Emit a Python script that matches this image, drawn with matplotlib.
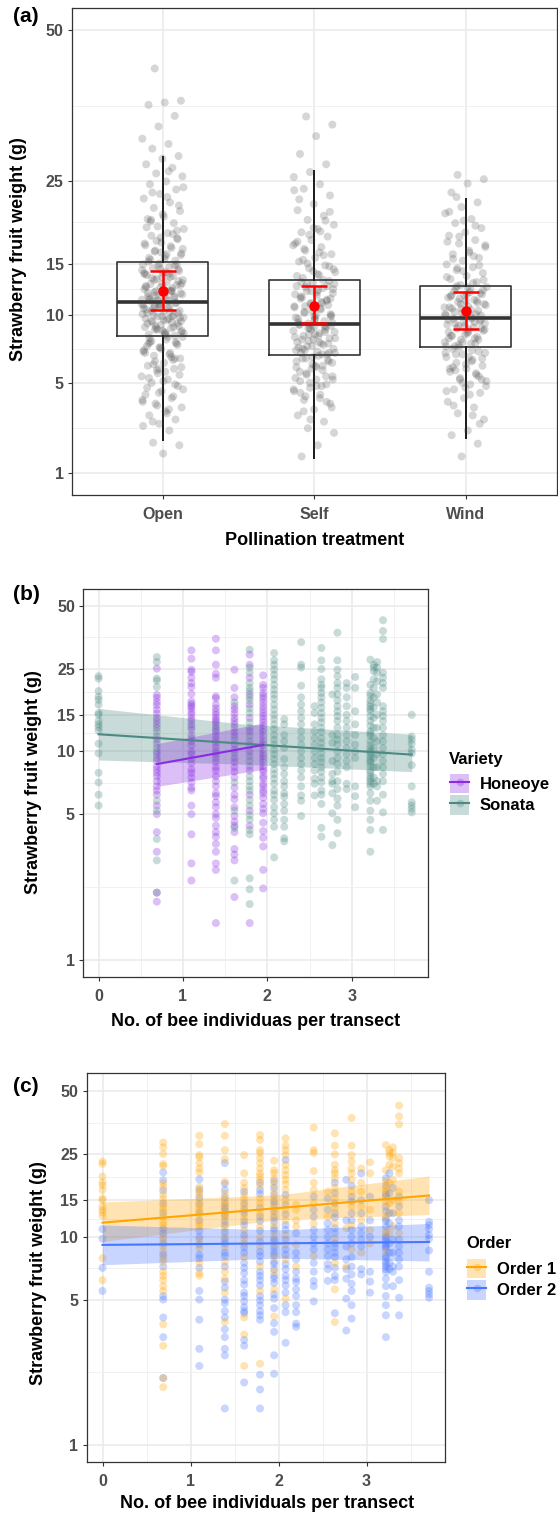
import numpy as np
import matplotlib
matplotlib.use('Agg')
import matplotlib.pyplot as plt
from matplotlib.patches import Patch
from matplotlib.lines import Line2D
from matplotlib.legend_handler import HandlerTuple
from matplotlib.ticker import FixedLocator, NullFormatter

plt.rcParams['font.family'] = ['Liberation Sans', 'DejaVu Sans']
plt.rcParams['font.weight'] = 'bold'

# ---------------- panel (a): pollination treatment ----------------
treatments = ['Open', 'Self', 'Wind']
box_q1 = [8.32, 6.87, 7.45]
box_med = [11.18, 9.25, 9.76]
box_q3 = [15.14, 13.30, 12.73]
whisk_lo = [2.10, 1.45, 2.19]
whisk_hi = [28.4, 26.5, 22.7]
mean_wt = [12.18, 10.86, 10.35]
mean_lo = [10.44, 9.31, 8.87]
mean_hi = [14.17, 12.73, 12.15]

open_wt = [42.9, 37.3, 37.0, 36.6, 34.8, 33.1, 31.2, 30.4, 29.7, 28.6, 28.2, 27.4, 26.9, 26.1,
           25.7, 25.0, 24.6, 23.9, 23.3, 22.7, 22.2, 21.5, 21.1, 20.4, 20.1, 19.6, 19.2, 18.9,
           18.4, 18.1, 17.7, 17.3, 17.0, 16.7, 16.4, 16.1, 15.8, 15.6, 15.3,
           15.0, 14.9, 14.6, 14.5, 14.2, 14.0, 13.8, 13.7, 13.4, 13.3, 13.1, 12.9, 12.8, 12.6,
           12.4, 12.3, 12.1, 12.0, 11.9, 11.7, 11.6, 11.5, 11.4, 11.3, 11.2, 14.4, 13.6, 12.7,
           12.2, 11.8, 13.0, 14.1, 11.5,
           11.1, 11.0, 10.9, 10.7, 10.6, 10.4, 10.3, 10.2, 10.0, 9.9, 9.8, 9.6, 9.5, 9.3, 9.2,
           9.0, 8.9, 8.8, 8.6, 8.5, 8.4, 8.3, 10.8, 10.1, 9.7, 9.4, 9.1, 8.7, 10.5, 9.9, 8.9,
           8.2, 8.0, 7.8, 7.7, 7.4, 7.2, 7.0, 6.8, 6.6, 6.3, 6.1, 5.9, 5.6, 5.4, 5.2, 5.0, 4.8,
           4.5, 4.3, 4.1, 3.8, 3.6, 3.4, 3.2, 3.0, 2.8, 2.7, 2.5, 2.0, 1.9, 1.6, 7.5, 6.5, 5.8,
           4.6, 3.3,
           19.8, 18.7, 17.9, 17.2, 16.9, 16.3, 15.9, 15.5, 15.2, 14.8, 14.7, 14.3, 13.9, 13.5,
           13.2, 12.9, 12.6, 12.5, 12.2, 11.9, 11.6, 11.4, 11.1, 10.9, 10.6, 10.3, 10.0, 9.8,
           9.6, 9.3, 9.0, 8.8, 8.5, 8.2, 7.9, 7.6, 7.3, 7.0, 6.7, 6.4, 6.0, 5.7, 5.3, 4.9, 4.4,
           3.9, 3.5, 2.9,
           21.8, 20.7, 19.1, 18.3, 17.5, 16.6, 16.0, 15.4, 14.9, 14.4, 14.0, 13.6, 13.3, 12.8,
           12.4, 12.0, 11.7, 11.3, 11.0, 10.7, 10.4, 10.2, 9.9, 9.7, 9.4, 9.1, 8.7, 8.4, 8.1,
           7.8, 7.4, 7.1, 6.9, 6.2, 5.5, 5.1, 4.7, 4.2, 3.7,
           24.2, 22.9, 20.0, 17.8, 16.2, 13.9, 12.2, 10.8, 9.5, 8.6, 7.7, 6.6, 5.9, 4.0, 26.4,
           23.5]
self_wt = [34.7, 33.4, 31.6, 28.9, 27.4, 26.3, 25.6, 24.6, 24.0, 23.1, 22.0, 21.2, 20.5, 20.0,
           19.4, 18.9, 18.5, 18.0, 17.6, 17.2, 16.8, 16.4, 16.0, 15.6, 15.2, 14.8, 14.5, 14.1,
           13.8, 13.5,
           13.2, 13.0, 12.7, 12.5, 12.2, 12.0, 11.8, 11.5, 11.3, 11.0, 10.8, 10.6, 10.3, 10.1,
           9.9, 9.7, 9.5, 9.3, 12.9, 12.3, 11.6, 10.9, 10.4, 9.8, 11.1, 12.6, 9.4, 10.0,
           9.2, 9.0, 8.9, 8.7, 8.5, 8.3, 8.1, 8.0, 7.8, 7.6, 7.5, 7.3, 7.1, 7.0, 6.9, 8.8, 8.2,
           7.7, 7.2, 9.1, 8.4, 7.4, 8.6, 7.9, 7.0,
           6.8, 6.6, 6.4, 6.2, 6.0, 5.8, 5.6, 5.4, 5.2, 5.1, 4.9, 4.7, 4.5, 4.3, 4.0, 3.8, 3.5,
           3.2, 2.9, 2.6, 2.4, 1.9, 1.5, 6.5, 5.9, 5.3, 4.8, 4.2, 3.6, 6.1,
           22.6, 19.9, 18.2, 17.0, 16.2, 15.4, 14.7, 14.2, 13.7, 13.3, 12.9, 12.4, 12.1, 11.7,
           11.4, 11.1, 10.7, 10.5, 10.2, 9.9, 9.6, 9.4, 9.1, 8.9, 8.6, 8.3, 8.0, 7.7, 7.5, 7.2,
           6.9, 6.6, 6.3, 6.0, 5.7, 5.4, 5.0, 4.6, 4.1, 3.4,
           21.0, 19.0, 17.4, 15.9, 15.0, 14.4, 13.9, 13.1, 12.7, 12.2, 11.9, 11.2, 10.8, 10.0,
           9.7, 9.2, 8.8, 8.4, 8.1, 7.8, 7.3, 7.0, 6.7, 6.4, 6.1, 5.5, 5.2, 4.8, 4.4, 3.9, 3.0,
           23.8, 18.6, 16.6, 11.5, 9.0]
wind_wt = [25.9, 25.3, 24.7, 23.5, 22.2, 21.6, 20.8, 20.1, 19.6, 19.0, 18.5, 18.1, 17.6, 17.2,
           16.8, 16.4, 16.0, 15.6, 15.3, 14.9, 14.6, 14.3, 14.0, 13.7, 13.4, 13.1, 12.8,
           12.6, 12.4, 12.2, 12.0, 11.8, 11.6, 11.4, 11.2, 11.0, 10.8, 10.6, 10.4, 10.2, 10.0,
           9.8, 12.5, 11.9, 11.3, 10.7, 10.1, 11.5, 10.9, 12.1,
           9.7, 9.5, 9.4, 9.2, 9.0, 8.9, 8.7, 8.5, 8.3, 8.2, 8.0, 7.8, 7.7, 7.5, 9.6, 9.1, 8.6,
           8.1, 7.6, 9.3, 8.8,
           7.3, 7.1, 6.9, 6.7, 6.5, 6.3, 6.1, 5.9, 5.7, 5.5, 5.3, 5.1, 4.9, 4.6, 4.4, 4.1, 3.9,
           3.6, 3.3, 3.0, 2.5, 2.3, 1.96, 1.5, 7.0, 6.4, 5.8, 5.2, 4.7,
           21.0, 19.3, 18.0, 17.0, 16.2, 15.5, 14.8, 14.2, 13.6, 13.0, 12.7, 12.3, 11.9, 11.7,
           11.3, 11.0, 10.7, 10.5, 10.3, 10.0, 9.9, 9.6, 9.4, 9.1, 8.8, 8.6, 8.3, 8.0, 7.8, 7.5,
           7.2, 6.9, 6.6, 6.2, 5.9, 5.6, 5.2, 4.8, 4.3, 3.7, 2.8,
           19.9, 17.4, 15.8, 14.5, 13.3, 12.6, 11.8, 11.1, 10.6, 10.1, 9.7, 9.3, 8.9, 8.4, 8.1,
           7.7, 7.4, 7.0, 6.7, 6.0, 5.4, 5.0, 4.5, 3.2, 22.9]

# ---------------- panels (b) and (c): bee abundance ----------------
bee_x = [0.00, 0.69, 1.10, 1.39, 1.61, 1.79, 1.95, 2.08, 2.20, 2.40, 2.56,
         2.64, 2.77, 2.83, 2.94, 3.04, 3.22, 3.26, 3.30, 3.37, 3.71]

honeoye_wt = [
    [],
    [25.0, 18.7, 18.1, 17.3, 16.7, 15.9, 15.2, 14.5, 14.0, 13.5, 13.0, 11.8, 11.4, 10.9, 10.0,
     9.7, 9.3, 9.0, 8.5, 8.2, 7.9, 7.6, 7.2, 6.8, 6.5, 6.2, 5.5, 5.0, 4.1, 3.3, 2.1, 1.9],
    [30.6, 27.9, 24.7, 24.1, 22.6, 21.3, 20.4, 18.9, 17.4, 16.9, 16.5, 16.1, 15.5, 15.0, 14.4,
     14.0, 13.5, 13.1, 12.7, 12.0, 11.6, 11.2, 10.7, 10.0, 9.7, 9.2, 8.8, 8.2, 7.9, 7.5, 7.1,
     6.7, 6.5, 5.5, 5.0, 4.0, 2.9, 2.4],
    [34.8, 30.6, 26.1, 23.6, 22.6, 18.4, 18.0, 16.8, 16.1, 15.5, 15.0, 14.5, 14.1, 13.8, 13.4,
     13.0, 12.7, 12.4, 11.9, 11.4, 11.0, 10.5, 10.0, 9.7, 9.3, 8.9, 8.4, 8.1, 7.6, 7.2, 6.8,
     6.3, 6.1, 5.7, 5.4, 5.0, 4.8, 4.4, 4.1, 3.9, 3.6, 3.3, 2.9, 2.7, 1.5],
    [24.7, 20.2, 18.2, 16.5, 15.9, 15.2, 14.5, 14.0, 13.5, 13.0, 12.4, 11.9, 10.8, 10.2, 9.3,
     8.9, 8.4, 8.0, 7.5, 6.7, 6.2, 5.9, 5.4, 4.9, 4.6, 4.4, 4.1, 3.4, 3.2, 3.0, 2.0],
    [29.2, 26.1, 22.6, 18.8, 16.8, 14.5, 12.5, 10.0, 8.1, 6.2, 5.2, 4.4, 1.5],
    [23.2, 20.9, 20.2, 19.1, 18.5, 17.9, 17.2, 16.5, 15.9, 15.3, 14.8, 14.3, 13.8, 13.3, 12.8,
     12.4, 11.9, 11.4, 11.0, 10.7, 10.2, 9.8, 9.5, 9.2, 8.9, 8.5, 8.2, 8.0, 7.6, 7.4, 7.0,
     6.8, 6.5, 6.3, 6.0, 5.6, 5.3, 5.05, 4.55, 4.15, 3.85, 3.5, 2.7, 2.2],
    [], [], [], [], [], [], [], [], [], [], [], [], [], [],
]
sonata_wt = [
    [23.0, 22.4, 19.5, 18.3, 17.7, 16.8, 15.3, 15.0, 14.0, 13.5, 13.1, 12.6, 10.9, 9.8, 7.9,
     7.1, 6.2, 5.5],
    [28.4, 26.9, 22.4, 21.9, 20.4, 12.5, 10.4, 5.8, 5.2, 3.8, 3.0, 2.1],
    [],
    [],
    [17.2, 11.4, 9.8, 7.1, 5.2, 4.3, 2.4],
    [30.8, 25.3, 23.9, 21.3, 20.2, 19.5, 18.2, 17.6, 16.1, 15.3, 13.8, 13.0, 11.9, 11.2, 10.7,
     9.5, 9.0, 8.5, 7.6, 7.2, 6.8, 6.5, 5.85, 5.5, 4.95, 4.7, 4.2, 4.0, 2.46, 2.18, 1.85],
    [],
    [29.7, 27.4, 26.1, 24.7, 23.4, 22.2, 20.9, 19.8, 18.8, 17.9, 16.8, 15.9, 15.0, 14.3, 13.5,
     12.8, 12.0, 11.4, 10.8, 10.2, 9.7, 9.2, 8.7, 8.2, 7.8, 7.4, 7.0, 6.5, 6.2, 5.85, 5.4,
     5.05, 4.7, 4.35, 3.1],
    [14.3, 13.5, 12.0, 11.2, 10.4, 9.2, 8.4, 7.8, 7.2, 6.8, 6.3, 6.07, 5.6, 5.2, 4.7, 4.35,
     3.83, 3.7],
    [33.5, 26.1, 25.3, 20.7, 18.2, 16.8, 15.6, 14.5, 13.5, 12.5, 11.6, 10.8, 10.0, 9.3, 8.7,
     8.1, 7.5, 6.8, 6.15, 5.8, 4.9],
    [16.5, 15.3, 13.5, 12.5, 11.6, 10.8, 10.0, 9.3, 8.7, 8.1, 7.4, 7.0, 6.15],
    [31.4, 27.4, 24.9, 22.2, 20.9, 20.2, 19.1, 18.2, 17.2, 16.2, 15.3, 14.5, 13.8, 13.0, 12.4,
     11.6, 11.0, 10.4, 9.8, 9.3, 8.9, 8.4, 8.0, 7.5, 7.1, 6.5, 6.2, 5.6, 4.3, 3.9],
    [18.8, 12.0, 11.0, 9.0, 7.8, 7.2, 7.0, 6.3, 5.05, 3.55],
    [37.2, 27.4, 24.7, 23.0, 21.3, 20.2, 18.8, 17.6, 16.5, 15.6, 14.8, 14.0, 13.0, 12.0, 11.4,
     10.8, 10.0, 9.3, 8.7, 8.0, 7.2, 6.6, 5.95, 5.5, 4.7, 4.05],
    [21.3, 20.2, 18.2, 16.5, 15.0, 14.0, 13.0, 12.0, 11.2, 10.4, 9.7, 9.0, 8.4, 7.0, 6.6],
    [22.8, 20.2, 15.6, 13.5, 12.0, 10.8, 10.0, 9.3, 6.8, 6.1, 5.4],
    [27.6, 20.9, 19.1, 18.5, 17.6, 16.5, 15.6, 14.8, 14.0, 13.3, 12.5, 11.9, 11.2, 10.7, 10.0,
     9.5, 9.0, 8.5, 8.1, 7.6, 7.2, 6.8, 6.3, 5.8, 5.2, 4.7, 4.2, 3.3, 17.0, 16.0, 12.2, 10.3,
     9.8, 9.2, 8.8, 7.9, 7.4, 7.0],
    [26.1, 25.3, 24.3, 22.2, 20.2, 18.2, 16.2, 14.5, 13.0, 11.6, 10.4, 9.3, 8.4, 7.5, 7.0],
    [26.9, 25.3, 23.9, 21.7, 18.8, 17.2, 15.0, 13.0, 11.2, 9.7, 8.4, 7.2, 6.8, 5.8],
    [42.7, 37.9, 34.7, 23.9, 22.6, 21.3, 20.2, 16.5, 15.6, 14.8, 14.0, 13.0, 12.0, 11.2, 10.4,
     9.7, 9.0, 8.4, 7.8, 7.2, 6.2, 5.1, 4.2],
    [15.0, 11.8, 11.4, 10.9, 10.2, 9.8, 8.6, 6.8, 5.7, 5.5, 5.3, 5.1],
]

# order of each fruit above ('1' = Order 1, '2' = Order 2), same sequence as the weights
honeoye_order = [
    '',
    '12112112112112112112112111122211',
    '11111112121121211212112212122121122222',
    '111121221212122121221212212212112212222122222222',
    '1112112122121212212222222211222',
    '1111212122222',
    '11112121212212122122122122212221222122212222222',
    '', '', '', '', '', '', '', '', '', '', '', '', '', '',
]
sonata_order = [
    '111111111111221212',
    '111121212112',
    '',
    '',
    '1212221',
    '1111112121212122122122212222122',
    '',
    '11112111111212121221212212222221222',
    '111121221222222222',
    '111111212212222122222',
    '1221222222222',
    '111111121212122122122221222121',
    '2212212222',
    '11111112122122122212222222',
    '121121212222122',
    '11212121222',
    '11212121221221222122222222221221222222',
    '111121212212222',
    '11111212122222',
    '11111111212122122222222',
    '222222222222',
]

# fitted lines and confidence ribbons
honeoye_fit_x = [0.69, 1.95]
honeoye_fit = [8.7, 10.75]
honeoye_lo = [6.8, 8.2]
honeoye_hi = [10.9, 13.7]
sonata_fit_x = [0.0, 3.71]
sonata_fit = [12.1, 9.66]
sonata_band_x = [0.0, 1.67, 3.71]
sonata_lo = [9.1, 8.7, 8.0]
sonata_hi = [16.1, 13.6, 12.1]

order_fit_x = [0.0, 3.71]
order1_fit = [11.7, 15.8]
order2_fit = [9.15, 9.45]
order_band_x = [0.0, 2.0, 3.71]
order1_lo = [9.5, 12.1, 12.8]
order1_hi = [14.7, 15.9, 19.6]
order2_lo = [7.35, 7.9, 7.66]
order2_hi = [11.4, 10.8, 11.6]

y_ticks = [1, 5, 10, 15, 25, 50]

HONEOYE = '#8A2BE2'
SONATA = '#4A8A82'
ORDER1 = '#FFA500'
ORDER2 = '#4876FF'
TICK_GREY = '#4D4D4D'

W, H = 558, 1514
fig = plt.figure(figsize=(W / 100, H / 100), dpi=100)


def add_axes_px(left, top, right, bottom):
    return fig.add_axes([left / W, 1 - bottom / H, (right - left) / W, (bottom - top) / H])


def fig_text(x, y, s, **kw):
    fig.text(x / W, 1 - y / H, s, **kw)


def jitter(n, width):
    idx = np.arange(n)
    return ((idx * 0.6180339887 + 0.31) % 1.0 - 0.5) * 2 * width


def style_axes(ax, yminor):
    for sp in ax.spines.values():
        sp.set_color('#333333')
        sp.set_linewidth(0.9)
    ax.set_yticks(y_ticks)
    ax.set_yticklabels([str(t) for t in y_ticks])
    ax.yaxis.set_minor_locator(FixedLocator(yminor))
    ax.yaxis.set_minor_formatter(NullFormatter())
    ax.tick_params(which='major', length=3, width=0.8, color='#333333',
                   labelsize=11.5, labelcolor=TICK_GREY, pad=3)
    ax.tick_params(axis='x', which='major', pad=5.5)
    ax.tick_params(which='minor', length=0)
    ax.grid(True, which='major', color='#EBEBEB', linewidth=1.2)
    ax.grid(True, which='minor', color='#EFEFEF', linewidth=0.6)
    ax.set_axisbelow(True)


def legend_handle(color):
    return (Patch(facecolor=color, alpha=0.3, edgecolor='none'),
            Line2D([], [], ls='none', marker='o', ms=5.5, color=color, alpha=0.3, mec='none'),
            Line2D([], [], color=color, lw=1.5))


# ---------------- (a) ----------------
ax_a = add_axes_px(71.9, 7.8, 556.5, 494.7)
ax_a.set_yscale('function', functions=(lambda v: np.sqrt(np.clip(v, 0, None)), np.square))
sq = np.sqrt(y_ticks)
style_axes(ax_a, list(((sq[:-1] + sq[1:]) / 2) ** 2))
stats = [dict(med=box_med[i], q1=box_q1[i], q3=box_q3[i], whislo=whisk_lo[i],
              whishi=whisk_hi[i], fliers=[]) for i in range(3)]
ax_a.bxp(stats, positions=[1, 2, 3], widths=0.6, showfliers=False, showcaps=False,
         boxprops=dict(color='#333333', linewidth=1.2),
         medianprops=dict(color='#333333', linewidth=2.6),
         whiskerprops=dict(color='#1a1a1a', linewidth=1.4))
for i, wts in enumerate([open_wt, self_wt, wind_wt]):
    ax_a.scatter(i + 1 + jitter(len(wts), 0.14), wts, s=33, color='#404040',
                 alpha=0.21, edgecolors='none', zorder=3)
ax_a.errorbar([1, 2, 3], mean_wt,
              yerr=[np.subtract(mean_wt, mean_lo), np.subtract(mean_hi, mean_wt)],
              fmt='o', color='red', ms=6.5, elinewidth=1.8, capsize=9.5, capthick=1.8, zorder=5)
ax_a.set_xlim(0.4, 3.6)
ax_a.set_ylim(0.49, 54.5)
ax_a.set_xticks([1, 2, 3])
ax_a.set_xticklabels(treatments)

# ---------------- (b) and (c) ----------------
log_mid = list(np.sqrt(np.array(y_ticks[:-1]) * np.array(y_ticks[1:])))

ax_b = add_axes_px(83.3, 588.7, 428.5, 977)
ax_b.set_yscale('log')
style_axes(ax_b, log_mid)
for i, x in enumerate(bee_x):
    for wts, col in ((honeoye_wt[i], HONEOYE), (sonata_wt[i], SONATA)):
        if wts:
            ax_b.scatter([x] * len(wts), wts, s=33, color=col, alpha=0.3,
                         edgecolors='none', zorder=3)
ax_b.fill_between(sonata_band_x, sonata_lo, sonata_hi, color=SONATA, alpha=0.3, lw=0, zorder=4)
ax_b.fill_between(honeoye_fit_x, honeoye_lo, honeoye_hi, color=HONEOYE, alpha=0.3, lw=0, zorder=4)
ax_b.plot(sonata_fit_x, sonata_fit, color=SONATA, lw=1.5, zorder=5)
ax_b.plot(honeoye_fit_x, honeoye_fit, color=HONEOYE, lw=1.5, zorder=5)
ax_b.set_xlim(-0.181, 3.909)
ax_b.set_ylim(0.826, 60.5)

ax_c = add_axes_px(86.5, 1073.3, 445.2, 1462)
ax_c.set_yscale('log')
style_axes(ax_c, log_mid)
for i, x in enumerate(bee_x):
    wts = honeoye_wt[i] + sonata_wt[i]
    codes = honeoye_order[i].ljust(len(honeoye_wt[i]), '2')[:len(honeoye_wt[i])] + \
        sonata_order[i].ljust(len(sonata_wt[i]), '2')[:len(sonata_wt[i])]
    for code, col in (('2', ORDER2), ('1', ORDER1)):
        sel = [w for w, c in zip(wts, codes) if c == code]
        if sel:
            ax_c.scatter([x] * len(sel), sel, s=33, color=col, alpha=0.3,
                         edgecolors='none', zorder=3)
ax_c.fill_between(order_band_x, order1_lo, order1_hi, color=ORDER1, alpha=0.3, lw=0, zorder=4)
ax_c.fill_between(order_band_x, order2_lo, order2_hi, color=ORDER2, alpha=0.3, lw=0, zorder=4)
ax_c.plot(order_fit_x, order1_fit, color=ORDER1, lw=1.5, zorder=5)
ax_c.plot(order_fit_x, order2_fit, color=ORDER2, lw=1.5, zorder=5)
ax_c.set_xlim(-0.182, 3.894)
ax_c.set_ylim(0.83, 61)

for ax in (ax_b, ax_c):
    ax.set_xticks([0, 1, 2, 3])
    ax.set_xticklabels(['0', '1', '2', '3'])
    ax.xaxis.set_minor_locator(FixedLocator([0.5, 1.5, 2.5, 3.5]))
    ax.xaxis.set_minor_formatter(NullFormatter())
    ax.tick_params(which='minor', length=0)

leg_kw = dict(handler_map={tuple: HandlerTuple(ndivide=1, pad=0)}, loc='upper left',
              bbox_transform=fig.transFigure, frameon=False,
              prop={'weight': 'bold', 'size': 12}, handlelength=1.15, handleheight=1.4,
              handletextpad=0.65, labelspacing=0.12, borderpad=0, borderaxespad=0)
ax_b.legend([legend_handle(HONEOYE), legend_handle(SONATA)], ['Honeoye', 'Sonata'],
            bbox_to_anchor=(450 / W, 1 - 774 / H), **leg_kw)
ax_c.legend([legend_handle(ORDER1), legend_handle(ORDER2)], ['Order 1', 'Order 2'],
            bbox_to_anchor=(467 / W, 1 - 1259 / H), **leg_kw)
fig_text(449, 759, 'Variety', ha='left', va='center', fontsize=12)
fig_text(466, 1243, 'Order', ha='left', va='center', fontsize=12)

# ---------------- titles and panel tags ----------------
ylab = 'Strawberry fruit weight (g)'
fig_text(18.5, 249, ylab, rotation=90, ha='center', va='center', fontsize=13, color='black')
fig_text(33.8, 782, ylab, rotation=90, ha='center', va='center', fontsize=13, color='black')
fig_text(38.4, 1273, ylab, rotation=90, ha='center', va='center', fontsize=13, color='black')
fig_text(315, 540, 'Pollination treatment', ha='center', va='center', fontsize=13)
fig_text(256, 1022, 'No. of bee individuas per transect', ha='center', va='center', fontsize=13)
fig_text(267, 1504, 'No. of bee individuals per transect', ha='center', va='center', fontsize=13)
fig_text(13, 17, '(a)', ha='left', va='center', fontsize=15)
fig_text(13, 594, '(b)', ha='left', va='center', fontsize=15)
fig_text(13, 1086, '(c)', ha='left', va='center', fontsize=15)

fig.savefig('out.png', dpi=100)
plt.close(fig)
